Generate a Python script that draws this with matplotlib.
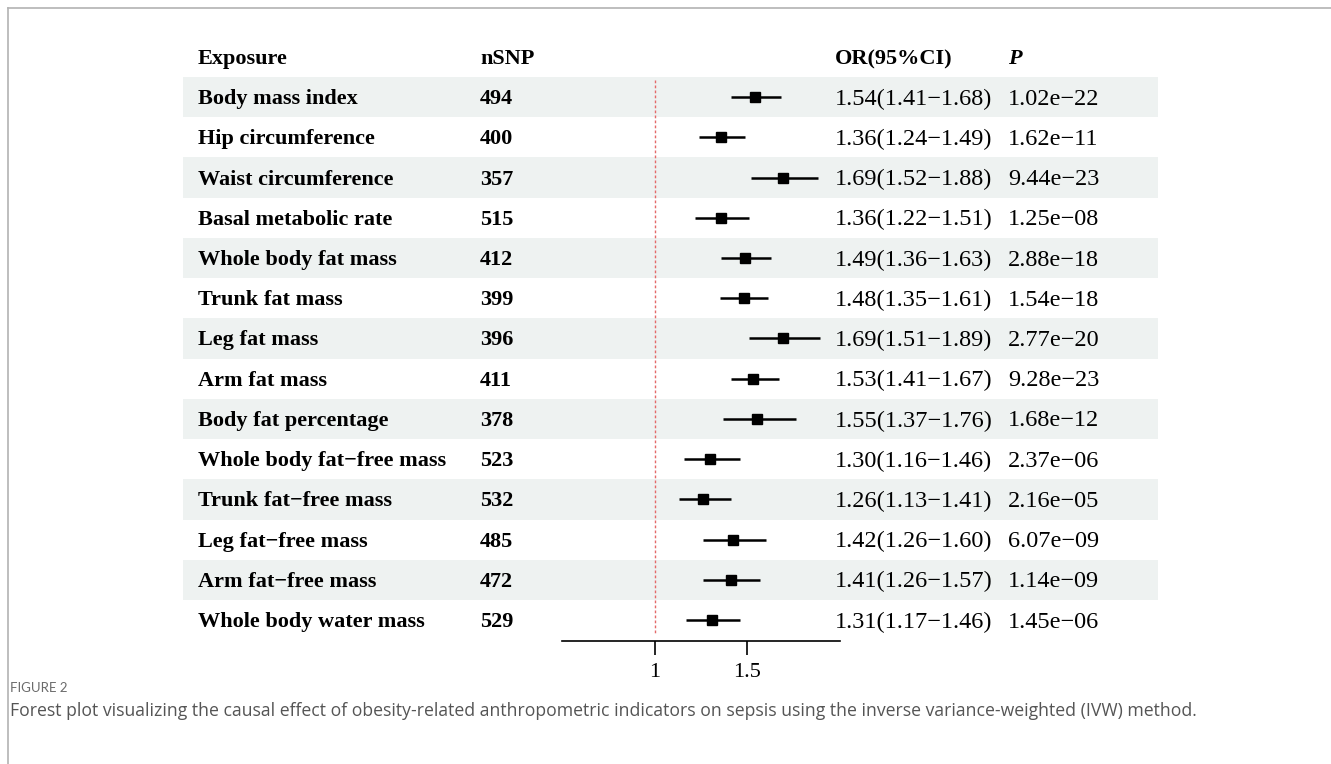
import matplotlib
matplotlib.use("Agg")
import matplotlib.pyplot as plt
from matplotlib.lines import Line2D

# ---- data ----
exposures = [
    "Body mass index", "Hip circumference", "Waist circumference",
    "Basal metabolic rate", "Whole body fat mass", "Trunk fat mass",
    "Leg fat mass", "Arm fat mass", "Body fat percentage",
    "Whole body fat-free mass", "Trunk fat-free mass", "Leg fat-free mass",
    "Arm fat-free mass", "Whole body water mass",
]
nsnp = [494, 400, 357, 515, 412, 399, 396, 411, 378, 523, 532, 485, 472, 529]
odds_ratio = [1.54, 1.36, 1.69, 1.36, 1.49, 1.48, 1.69, 1.53, 1.55, 1.30, 1.26, 1.42, 1.41, 1.31]
ci_low = [1.41, 1.24, 1.52, 1.22, 1.36, 1.35, 1.51, 1.41, 1.37, 1.16, 1.13, 1.26, 1.26, 1.17]
ci_high = [1.68, 1.49, 1.88, 1.51, 1.63, 1.61, 1.89, 1.67, 1.76, 1.46, 1.41, 1.60, 1.57, 1.46]
p_values = [1.02e-22, 1.62e-11, 9.44e-23, 1.25e-08, 2.88e-18, 1.54e-18, 2.77e-20,
            9.28e-23, 1.68e-12, 2.37e-06, 2.16e-05, 6.07e-09, 1.14e-09, 1.45e-06]
x_ticks = [1, 1.5]
x_tick_labels = ["1", "1.5"]

MINUS = "\u2212"
W, H = 1331, 764
SERIF = "Liberation Serif"
SANS = "Open Sans"

fig = plt.figure(figsize=(W / 100, H / 100), dpi=100)

# background axes in pixel coordinates for the table layout
bg = fig.add_axes([0, 0, 1, 1])
bg.set_xlim(0, W)
bg.set_ylim(H, 0)
bg.axis("off")

row_top = 77.0
row_h = 40.23
n = len(exposures)
shade_left, shade_right = 183, 1158
col_exposure, col_nsnp, col_or, col_p = 198, 480, 835, 1008
fs_bold = 16
fs_reg = 17.5
dy = 2  # nudge so glyphs sit visually centred in each row

# frame lines
bg.add_line(Line2D([8, 8], [8, H], color="#b3b3b3", lw=1.2))
bg.add_line(Line2D([8, W], [8, 8], color="#b3b3b3", lw=1.2))

# header
hy = 57 + dy
bg.text(col_exposure, hy, "Exposure", fontsize=fs_bold, fontweight="bold", family=SERIF, va="center")
bg.text(col_nsnp, hy, "nSNP", fontsize=fs_bold, fontweight="bold", family=SERIF, va="center")
bg.text(col_or, hy, "OR(95%CI)", fontsize=fs_bold, fontweight="bold", family=SERIF, va="center")
bg.text(col_p, hy, "P", fontsize=fs_bold, fontweight="bold", style="italic", family=SERIF, va="center")

for i in range(n):
    top = row_top + i * row_h
    yc = top + row_h / 2 + dy
    if i % 2 == 0:
        bg.fill_between([shade_left, shade_right], top, top + row_h,
                        color="#eef2f1", lw=0, zorder=0)
    bg.text(col_exposure, yc, exposures[i].replace("-", MINUS), fontsize=fs_bold,
            fontweight="bold", family=SERIF, va="center")
    bg.text(col_nsnp, yc, str(nsnp[i]), fontsize=fs_bold, fontweight="bold",
            family=SERIF, va="center")
    or_txt = f"{odds_ratio[i]:.2f}({ci_low[i]:.2f}{MINUS}{ci_high[i]:.2f})"
    bg.text(col_or, yc, or_txt, fontsize=fs_reg, family=SERIF, va="center")
    p_txt = f"{p_values[i]:.2e}".replace("-", MINUS)
    bg.text(col_p, yc, p_txt, fontsize=fs_reg, family=SERIF, va="center")

# caption
bg.text(10, 688, "FIGURE 2", fontsize=9.5, color="#6b6b6b", family="Lato", va="center")
bg.text(10, 711,
        "Forest plot visualizing the causal effect of obesity-related anthropometric "
        "indicators on sepsis using the inverse variance-weighted (IVW) method.",
        fontsize=12.7, color="#555555", family=SANS, va="center")

# forest axes
ax_left, ax_right = 562, 840
ax_top, ax_bottom = row_top, 641
ax = fig.add_axes([ax_left / W, (H - ax_bottom) / H,
                   (ax_right - ax_left) / W, (ax_bottom - ax_top) / H])
ax.patch.set_alpha(0)
ax.set_xlim(0.5, 2.0)
ax.set_ylim((ax_bottom - row_top) / row_h - 0.5, -0.5)
for s in ("top", "right", "left"):
    ax.spines[s].set_visible(False)
ax.spines["bottom"].set_linewidth(1.2)
ax.set_yticks([])
ax.set_xticks(x_ticks)
ax.set_xticklabels(x_tick_labels, family=SERIF, fontsize=16)
ax.tick_params(axis="x", length=10, width=1.2, pad=6)

rows = list(range(n))
ax.vlines(1, -0.42, n - 0.65, colors="#e46a6a", linestyles=(0, (2, 1.6)), lw=1.0)
ax.hlines(rows, ci_low, ci_high, colors="black", lw=1.8)
ax.plot(odds_ratio, rows, ls="none", marker="s", ms=7.5, color="black")

fig.savefig("out.png", dpi=100)
